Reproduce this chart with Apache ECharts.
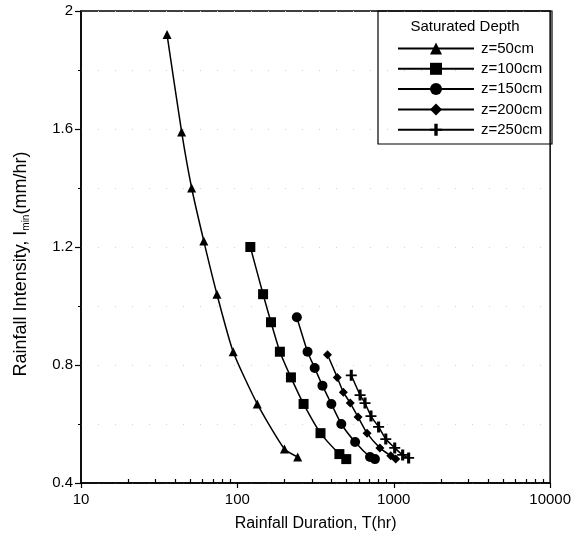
<!DOCTYPE html>
<html>
<head>
<meta charset="utf-8">
<script src="https://cdn.jsdelivr.net/npm/echarts@6/dist/echarts.min.js"></script>
<style>
  html, body { margin: 0; padding: 0; background: #fff; }
  #chart { width: 574px; height: 542px; }
</style>
</head>
<body>
<div id="chart"></div>
<script>
// series names
var seriesNames = ['z=50cm', 'z=100cm', 'z=150cm', 'z=200cm', 'z=250cm'];

// rainfall duration T(hr) and intensity Imin(mm/hr)
var t50 = [35.5, 44, 51, 61, 74, 94, 134, 200, 243];
var i50 = [1.92, 1.59, 1.40, 1.22, 1.04, 0.845, 0.668, 0.515, 0.488];

var t100 = [121, 146, 164, 187, 220, 265, 340, 449, 497];
var i100 = [1.20, 1.04, 0.945, 0.845, 0.758, 0.668, 0.569, 0.498, 0.481];

var t150 = [240, 281, 312, 350, 399, 462, 566, 705, 758];
var i150 = [0.962, 0.845, 0.79, 0.73, 0.668, 0.60, 0.539, 0.488, 0.481];

var t200 = [377, 435, 476, 527, 591, 675, 815, 957, 1030];
var i200 = [0.835, 0.758, 0.708, 0.671, 0.624, 0.569, 0.519, 0.492, 0.481];

var t250 = [535, 609, 655, 715, 800, 889, 1014, 1140, 1245];
var i250 = [0.765, 0.698, 0.671, 0.627, 0.59, 0.549, 0.519, 0.495, 0.485];

// minor ticks for the log axis
var minorT = [20, 30, 40, 50, 60, 70, 80, 90, 200, 300, 400, 500, 600, 700, 800, 900,
              2000, 3000, 4000, 5000, 6000, 7000, 8000, 9000];

var plusPath = 'path://M3.6,0H6.4V10H3.6Z M0,4.2H10V5.8H0Z';
var symbols = ['triangle', 'rect', 'circle', 'diamond', plusPath];
var symSizes = [9, 10, 10, 9, 11];

function pairs(xs, ys) {
    var out = [];
    for (var i = 0; i < xs.length; i++) {
        out.push([xs[i], ys[i]]);
    }
    return out;
}

var allT = [t50, t100, t150, t200, t250];
var allI = [i50, i100, i150, i200, i250];

var font = 'Liberation Sans, Arial, sans-serif';

var series = [];
for (var k = 0; k < seriesNames.length; k++) {
    series.push({
        name: seriesNames[k],
        type: 'line',
        xAxisIndex: 0,
        data: pairs(allT[k], allI[k]),
        symbol: symbols[k],
        symbolSize: symSizes[k],
        smooth: 0.2,
        lineStyle: { color: '#000', width: 1.5 },
        itemStyle: { color: '#000' },
        animation: false
    });
}

var myChart = echarts.init(document.getElementById('chart'));

var option = {
    backgroundColor: '#fff',
    animation: false,
    grid: {
        left: 81, right: 22, top: 11, bottom: 59,
        show: true, borderColor: '#000', borderWidth: 1.5
    },
    xAxis: [{
        type: 'log',
        logBase: 10,
        min: 10,
        max: 10000,
        axisLine: { show: true, lineStyle: { color: '#000', width: 1.5 } },
        axisTick: { show: true, length: 5, lineStyle: { color: '#000', width: 1.2 } },
        axisLabel: {
            color: '#000', fontFamily: font, fontSize: 15, margin: 9,
            formatter: function (v) { return String(Math.round(v)); }
        },
        splitLine: { show: false },
        name: 'Rainfall Duration, T(hr)',
        nameLocation: 'middle',
        nameGap: 33,
        nameTextStyle: { color: '#000', fontFamily: font, fontSize: 16 }
    }, {
        type: 'log',
        logBase: 10,
        min: 10,
        max: 10000,
        position: 'bottom',
        axisLine: { show: false },
        axisLabel: { show: false },
        axisTick: { show: true, inside: true, length: 4, customValues: minorT,
                    lineStyle: { color: '#000', width: 1.2 } },
        splitLine: { show: false }
    }],
    yAxis: {
        type: 'value',
        min: 0.4,
        max: 2,
        interval: 0.4,
        axisLine: { show: true, lineStyle: { color: '#000', width: 1.5 } },
        axisTick: { show: true, length: 6, lineStyle: { color: '#000', width: 1.2 } },
        minorTick: { show: true, splitNumber: 2, length: 3, lineStyle: { color: '#000' } },
        axisLabel: {
            color: '#000', fontFamily: font, fontSize: 15, margin: 8,
            formatter: function (v) { return String(Math.round(v * 10) / 10); }
        },
        splitLine: { show: true, lineStyle: { color: '#d0d0d0', width: 1, type: [1, 16] } },
        minorSplitLine: { show: true, lineStyle: { color: '#d0d0d0', width: 1, type: [1, 16] } },
        name: 'Rainfall Intensity, I{sub|min}(mm/hr)',
        nameLocation: 'middle',
        nameGap: 50,
        nameTextStyle: {
            color: '#000', fontFamily: font, fontSize: 18, padding: [0, 34, 0, 0],
            rich: { sub: { fontSize: 10, fontFamily: font, color: '#000', verticalAlign: 'bottom', padding: [9, 0, 0, 0] } }
        }
    },
    legend: {
        orient: 'vertical',
        left: 392,
        top: 36,
        itemWidth: 76,
        itemHeight: 15,
        itemGap: 5.3,
        data: seriesNames,
        textStyle: { color: '#000', fontFamily: font, fontSize: 15, lineHeight: 15, padding: [0, 0, 0, 2] },
        selectedMode: false
    },
    graphic: [{
        type: 'rect',
        shape: { x: 378, y: 11, width: 174, height: 133 },
        style: { fill: 'none', stroke: '#000', lineWidth: 1.2 },
        z: 100
    }, {
        type: 'text',
        x: 465, y: 27,
        style: {
            text: 'Saturated Depth', fill: '#000', font: '15px ' + font,
            textAlign: 'center', textVerticalAlign: 'middle'
        },
        z: 100
    }],
    series: series
};

myChart.setOption(option);
</script>
</body>
</html>
